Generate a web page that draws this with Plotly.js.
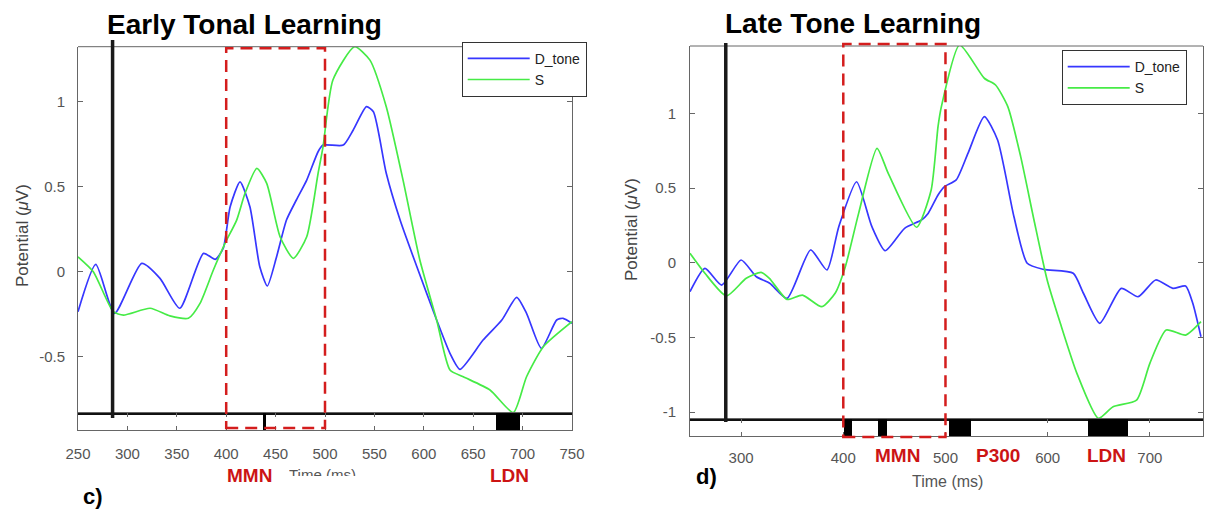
<!DOCTYPE html>
<html>
<head>
<meta charset="utf-8">
<script src="https://cdn.plot.ly/plotly-3.0.1.min.js"></script>
<style>html,body{margin:0;padding:0;background:#fff;}#chart{width:1207px;height:509px;}</style>
</head>
<body>
<div id="chart"></div>
<script>
// ---------- DATA ----------
// Panel c) Early Tonal Learning
const earlyDTime = [250,268,287,314.5,333,353,377,389,397,404,414,424,434,441.6,451,461,471,481.5,493,498,518.5,528.6,542,549,562,576,593,613,626.5,636.6,660,679,694,704,719,734.5,741,750];
const earlyD     = [-0.235,0.043,-0.245,0.049,-0.039,-0.215,0.108,0.073,0.138,0.382,0.529,0.382,0.029,-0.084,0.088,0.304,0.422,0.539,0.706,0.745,0.745,0.834,0.971,0.941,0.579,0.304,0.029,-0.284,-0.48,-0.574,-0.402,-0.284,-0.151,-0.245,-0.451,-0.284,-0.274,-0.304];
const earlySTime = [250,265.5,285.7,296,323,343,361.7,373.5,387,398.8,410.6,419,431,441,454.5,468,481.5,493,498,508,530,545.5,562,579,596,613,626.5,640,667,690.6,704,721,750];
const earlyS     = [0.088,0,-0.235,-0.255,-0.215,-0.26,-0.274,-0.186,0.01,0.167,0.304,0.46,0.608,0.52,0.206,0.079,0.206,0.579,0.735,1.128,1.324,1.245,0.971,0.539,0.069,-0.284,-0.578,-0.618,-0.696,-0.829,-0.618,-0.441,-0.294];
const earlySigStart = [437,673];
const earlySigEnd   = [440,697];

// Panel d) Late Tone Learning
const lateDTime = [250,264.6,281,300,315,328,345,368,384,395.6,413,428,441,460,476.5,483,492.7,499,510.5,522,538,551,567,580,596,625,635,651,672,688.5,705.7,722.5,735,742,750];
const lateD     = [-0.193,-0.037,-0.149,0.019,-0.093,-0.137,-0.238,0.086,-0.048,0.242,0.543,0.242,0.081,0.231,0.287,0.331,0.454,0.51,0.555,0.733,0.979,0.822,0.309,-0.003,-0.044,-0.07,-0.204,-0.405,-0.171,-0.227,-0.115,-0.171,-0.155,-0.271,-0.495];
const lateSTime = [250,264.6,285.6,305,319.6,327.7,345,360,379,392,402,415,433,444,471.7,486,492.7,496,513.8,538,549,561,573.6,586.6,599.5,612.4,628.6,649.7,664,687,700,716,735,750];
const lateS     = [0.064,-0.07,-0.222,-0.104,-0.064,-0.104,-0.245,-0.216,-0.294,-0.204,-0.026,0.331,0.767,0.599,0.238,0.488,0.912,1.046,1.459,1.236,1.191,1.046,0.711,0.287,-0.115,-0.405,-0.74,-1.042,-0.964,-0.919,-0.673,-0.45,-0.484,-0.394];
const lateSigStart = [401,434,503,639];
const lateSigEnd   = [409,443,525,679];

// Common
const onsetTime = 285;
const mmnWindow = [400,500];
const seriesNames = ['D_tone','S'];

// Tick labels
const earlyYTicks = [-0.5,0,0.5,1];
const earlyYText  = ['-0.5','0','0.5','1'];
const lateYTicks  = [-1,-0.5,0,0.5,1];
const lateYText   = ['-1','-0.5','0','0.5','1'];
const earlyXTicks = [250,300,350,400,450,500,550,600,650,700,750];
const lateXTicks  = [300,400,500,600,700];

// ---------- LAYOUT HELPERS ----------
const W = 1207, H = 509;
const X = px => px / W;
const Y = py => 1 - py / H;
const FONT = 'Liberation Sans, Arial, sans-serif';
const BLUE = 'rgb(55,55,255)';
const GREEN = 'rgb(70,235,70)';
const AX = '#666';
const TICKF = {family: FONT, size: 15, color: '#555'};

function sigBars(starts, ends, xa, ya) {
  return {
    type: 'bar', xaxis: xa, yaxis: ya,
    x: starts.map((s, i) => (s + ends[i]) / 2),
    width: starts.map((s, i) => ends[i] - s),
    y: starts.map(() => 1), base: starts.map(() => 0),
    marker: {color: '#000', line: {width: 0}},
    showlegend: false, hoverinfo: 'skip'
  };
}

const traces = [
  {x: earlyDTime, y: earlyD, name: seriesNames[0], xaxis: 'x', yaxis: 'y', mode: 'lines', line: {color: BLUE, width: 1.7, shape: 'spline', smoothing: 0.6}, legend: 'legend'},
  {x: earlySTime, y: earlyS, name: seriesNames[1], xaxis: 'x', yaxis: 'y', mode: 'lines', line: {color: GREEN, width: 1.7, shape: 'spline', smoothing: 0.6}, legend: 'legend'},
  sigBars(earlySigStart, earlySigEnd, 'x3', 'y2'),
  {x: lateDTime, y: lateD, name: seriesNames[0], xaxis: 'x2', yaxis: 'y3', mode: 'lines', line: {color: BLUE, width: 1.7, shape: 'spline', smoothing: 0.6}, legend: 'legend2'},
  {x: lateSTime, y: lateS, name: seriesNames[1], xaxis: 'x2', yaxis: 'y3', mode: 'lines', line: {color: GREEN, width: 1.7, shape: 'spline', smoothing: 0.6}, legend: 'legend2'},
  sigBars(lateSigStart, lateSigEnd, 'x4', 'y4')
];

const mainX = (dom, range, anchor) => ({
  domain: dom, range: range, anchor: anchor,
  showline: true, linecolor: '#111', linewidth: 2, mirror: false,
  ticks: '', showticklabels: false, showgrid: false, zeroline: false, fixedrange: true
});
const mainY = (dom, range, anchor, tv, tt, standoff) => ({
  domain: dom, range: range, anchor: anchor,
  showline: true, linecolor: AX, linewidth: 1, mirror: 'ticks',
  ticks: 'inside', ticklen: 5, tickcolor: AX, tickvals: tv, ticktext: tt,
  tickfont: TICKF, ticklabelstandoff: standoff,
  showgrid: false, zeroline: false, fixedrange: true
});
const stripX = (dom, range, anchor, match, tv, standoff) => ({
  domain: dom, range: range, anchor: anchor, matches: match,
  showline: true, linecolor: AX, linewidth: 1, mirror: 'ticks',
  ticks: 'inside', ticklen: 4, tickcolor: AX, tickvals: tv, ticktext: tv.map(String),
  tickfont: TICKF, ticklabelstandoff: standoff,
  showgrid: false, zeroline: false, fixedrange: true
});
const stripY = (dom, anchor) => ({
  domain: dom, range: [0, 1], anchor: anchor,
  showline: true, linecolor: AX, linewidth: 1, mirror: true,
  ticks: '', showticklabels: false, showgrid: false, zeroline: false, fixedrange: true
});

const leftDom = [X(78), X(572)];
const rightDom = [X(690), X(1203)];

const legendStyle = (x, y) => ({
  x: x, y: y, xanchor: 'left', yanchor: 'top', xref: 'paper', yref: 'paper',
  bgcolor: '#fff', bordercolor: '#333', borderwidth: 1,
  font: {family: FONT, size: 14, color: '#222'}, itemwidth: 62, tracegroupgap: 0
});

const ann = (text, xpx, ypx, size, color, extra) => Object.assign({
  text: text, x: X(xpx), y: Y(ypx), xref: 'paper', yref: 'paper',
  xanchor: 'center', yanchor: 'middle', showarrow: false,
  font: {family: FONT, size: size, color: color}
}, extra || {});

const layout = {
  width: W, height: H, margin: {l: 0, r: 0, t: 0, b: 0},
  paper_bgcolor: '#fff', plot_bgcolor: '#fff',
  showlegend: true, bargap: 0,
  xaxis: mainX(leftDom, [250, 750], 'y'),
  yaxis: mainY([Y(413.3), Y(46.7)], [-0.833, 1.324], 'x', earlyYTicks, earlyYText, 9),
  xaxis3: stripX(leftDom, [250, 750], 'y2', 'x', earlyXTicks, 10),
  yaxis2: stripY([Y(430), Y(413.3)], 'x3'),
  xaxis2: mainX(rightDom, [250, 752], 'y3'),
  yaxis3: mainY([Y(419.3), Y(46)], [-1.048, 1.452], 'x2', lateYTicks, lateYText, 10),
  xaxis4: stripX(rightDom, [250, 752], 'y4', 'x2', lateXTicks, 8),
  yaxis4: stripY([Y(436), Y(419.3)], 'x4'),
  legend: legendStyle(X(461.7), Y(41.7)),
  legend2: legendStyle(X(1061.7), Y(50)),
  shapes: [
    {type: 'line', xref: 'x domain', yref: 'y domain', x0: 0, x1: 1, y0: 1, y1: 1, line: {color: AX, width: 1}},
    {type: 'line', xref: 'x2 domain', yref: 'y3 domain', x0: 0, x1: 1, y0: 1, y1: 1, line: {color: AX, width: 1}},
    {type: 'line', xref: 'x', yref: 'paper', x0: onsetTime, x1: onsetTime, y0: Y(418), y1: Y(40), line: {color: '#1a1a1a', width: 3.5}},
    {type: 'line', xref: 'x2', yref: 'paper', x0: onsetTime, x1: onsetTime, y0: Y(422), y1: Y(43), line: {color: '#1a1a1a', width: 3.5}},
    {type: 'rect', xref: 'x', yref: 'paper', x0: mmnWindow[0], x1: mmnWindow[1], y0: Y(428), y1: Y(48.3), line: {color: '#d41d1d', width: 2.5, dash: '12px,7px'}, fillcolor: 'rgba(0,0,0,0)', layer: 'above'},
    {type: 'rect', xref: 'x2', yref: 'paper', x0: mmnWindow[0], x1: mmnWindow[1], y0: Y(437), y1: Y(44), line: {color: '#d41d1d', width: 2.5, dash: '12px,7px'}, fillcolor: 'rgba(0,0,0,0)', layer: 'above'}
  ],
  annotations: [
    ann('<b>Early Tonal Learning</b>', 244, 25, 28, '#000'),
    ann('<b>Late Tone Learning</b>', 853, 24, 28, '#000'),
    ann('Potential (<i>μ</i>V)', 22, 236, 17, '#444', {textangle: -90}),
    ann('Potential (<i>μ</i>V)', 631, 230, 17, '#444', {textangle: -90}),
    ann('<b>MMN</b>', 249.7, 475, 19, '#cc1414'),
    ann('<b>LDN</b>', 509, 475, 19, '#cc1414'),
    ann('Time (ms)', 322, 463.5, 15, '#555', {yanchor: 'top', valign: 'top', height: 10}),
    ann('<b>c)</b>', 93, 496, 22, '#000'),
    ann('<b>MMN</b>', 897, 455, 19, '#cc1414'),
    ann('<b>P300</b>', 998, 455, 19, '#cc1414'),
    ann('<b>LDN</b>', 1106, 455, 19, '#cc1414'),
    ann('Time (ms)', 947.5, 481, 16, '#555'),
    ann('<b>d)</b>', 706.5, 476, 22, '#000')
  ]
};

Plotly.newPlot('chart', traces, layout, {staticPlot: true, displayModeBar: false});
</script>
</body>
</html>
